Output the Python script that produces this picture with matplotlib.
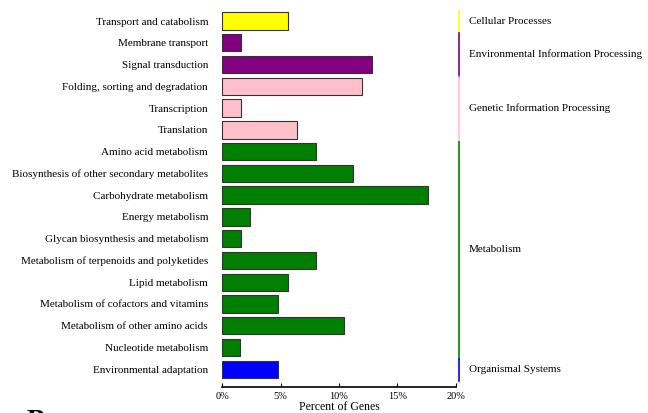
import matplotlib
matplotlib.use("Agg")
import matplotlib.pyplot as plt
from matplotlib.ticker import FuncFormatter

plt.rcParams["font.family"] = ["Liberation Serif", "DejaVu Serif"]

# KEGG pathway categories (top to bottom) and percent of genes
pathways = [
    "Transport and catabolism",
    "Membrane transport",
    "Signal transduction",
    "Folding, sorting and degradation",
    "Transcription",
    "Translation",
    "Amino acid metabolism",
    "Biosynthesis of other secondary metabolites",
    "Carbohydrate metabolism",
    "Energy metabolism",
    "Glycan biosynthesis and metabolism",
    "Metabolism of terpenoids and polyketides",
    "Lipid metabolism",
    "Metabolism of cofactors and vitamins",
    "Metabolism of other amino acids",
    "Nucleotide metabolism",
    "Environmental adaptation",
]
percent = [5.6, 1.6, 12.8, 12.0, 1.6, 6.4, 8.0, 11.2, 17.6, 2.4, 1.6,
           8.0, 5.6, 4.8, 10.4, 1.5, 4.8]

groups = ["Cellular Processes", "Environmental Information Processing",
          "Genetic Information Processing", "Metabolism", "Organismal Systems"]
group_sizes = [1, 2, 3, 10, 1]
group_colors = ["#FFFF00", "#800080", "#FFC0CB", "#007F00", "#0000FF"]

bar_colors = []
for size, color in zip(group_sizes, group_colors):
    bar_colors += [color] * size

fig = plt.figure(figsize=(6.48, 4.13), dpi=100)
ax = fig.add_axes([0.3426, 0.0637, 0.7037 - 0.3426, 0.9755 - 0.0637])

ypos = list(range(len(pathways)))
ax.barh(ypos, percent, height=0.8, color=bar_colors, edgecolor="#333333",
        linewidth=0.8)

ax.set_xlim(0, 20)
ax.set_ylim(16.8, -0.5)
ax.set_yticks(ypos)
ax.set_yticklabels(pathways, fontsize=8)
ax.tick_params(axis="y", length=0, pad=10)
ax.set_xticks([0, 5, 10, 15, 20])
ax.xaxis.set_major_formatter(FuncFormatter(lambda v, p: f"{int(v)}%"))
ax.tick_params(axis="x", labelsize=7.5, length=3, direction="in", pad=4,
               width=0.8)
ax.set_xlabel("Percent of Genes", fontsize=8.5, labelpad=0)

for side in ["top", "right", "left"]:
    ax.spines[side].set_visible(False)
ax.spines["bottom"].set_linewidth(1.2)

# group brackets on the right
start = 0
for name, size, color in zip(groups, group_sizes, group_colors):
    top = start - 0.45
    bottom = start + size - 0.45
    ax.plot([1.013, 1.013], [top, bottom], color=color, lw=1.2,
            transform=ax.get_yaxis_transform(), clip_on=False)
    ax.text(1.055, start + (size - 1) / 2, name, fontsize=8, va="center",
            ha="left", transform=ax.get_yaxis_transform())
    start += size

# panel letter, mostly below the bottom edge as in the source figure
fig.text(27 / 648, 1 - 409 / 413, "B", fontsize=20, fontweight="bold",
         va="top", ha="left")

fig.savefig("out.png", dpi=100)
